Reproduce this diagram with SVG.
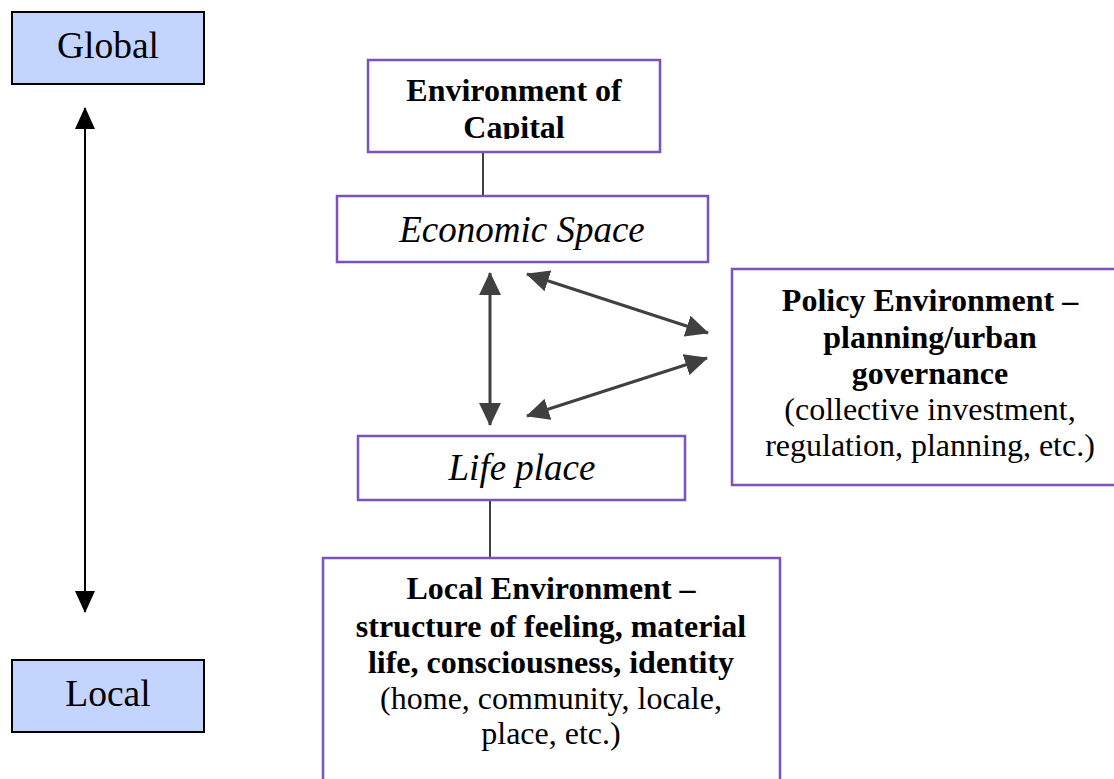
<svg xmlns="http://www.w3.org/2000/svg" width="1114" height="779" viewBox="0 0 1114 779">
  <defs>
    <style>
      .scale { fill: #c3d5fe; stroke: #000; stroke-width: 2; }
      .box { fill: #fff; stroke: #7b52bf; stroke-width: 2.5; }
      .t { font-family: "Liberation Serif", "Times New Roman", serif; fill: #000; text-anchor: middle; }
      .b { font-weight: bold; font-size: 32px; }
      .r { font-size: 32px; }
      .i { font-style: italic; font-size: 37px; }
      .big { font-size: 37.5px; }
      .link { stroke: #404040; stroke-width: 2; fill: none; }
      .dbl { stroke: #404040; stroke-width: 3; fill: none; marker-start: url(#headGray); marker-end: url(#headGray); }
    </style>
    <marker id="headGray" viewBox="0 0 23 22" refX="22" refY="11" markerWidth="23" markerHeight="22" markerUnits="userSpaceOnUse" orient="auto-start-reverse">
      <path d="M0,0 L23,11 L0,22 Z" fill="#404040"/>
    </marker>
    <marker id="headBlack" viewBox="0 0 22 20" refX="21" refY="10" markerWidth="22" markerHeight="20" markerUnits="userSpaceOnUse" orient="auto-start-reverse">
      <path d="M0,0 L22,10 L0,20 Z" fill="#000"/>
    </marker>
    <clipPath id="capClip">
      <rect x="368" y="60" width="292" height="79"/>
    </clipPath>
  </defs>

  <rect width="1114" height="779" fill="#fff"/>

  <!-- scale: global to local -->
  <g id="global">
    <rect class="scale" x="12" y="12" width="192" height="72"/>
    <text class="t big" x="108" y="58">Global</text>
  </g>
  <g id="local">
    <rect class="scale" x="12" y="660" width="192" height="72"/>
    <text class="t big" x="108" y="706">Local</text>
  </g>

  <g id="connectors">
    <line x1="85" y1="108" x2="85" y2="612" stroke="#000" stroke-width="2" marker-start="url(#headBlack)" marker-end="url(#headBlack)"/>
    <line class="link" x1="483" y1="152" x2="483" y2="196"/>
    <line class="link" x1="490" y1="500" x2="490" y2="558"/>
    <line class="dbl" x1="490" y1="273" x2="490" y2="425"/>
    <line class="dbl" x1="527" y1="274" x2="708" y2="333"/>
    <line class="dbl" x1="527" y1="416" x2="707" y2="358"/>
  </g>

  <g id="capital">
    <rect class="box" x="368" y="60" width="292" height="92"/>
    <g clip-path="url(#capClip)">
      <text class="t b" x="514" y="101">Environment of</text>
      <text class="t b" x="514" y="138">Capital</text>
    </g>
  </g>

  <g id="economic">
    <rect class="box" x="337" y="196" width="371" height="66"/>
    <text class="t i" x="522" y="242">Economic Space</text>
  </g>

  <g id="lifeplace">
    <rect class="box" x="358" y="436" width="327" height="64"/>
    <text class="t i" x="522" y="480">Life place</text>
  </g>

  <g id="policy">
    <rect class="box" x="732" y="269" width="390" height="216"/>
    <text class="t b" x="930" y="311">Policy Environment –</text>
    <text class="t b" x="930" y="348">planning/urban</text>
    <text class="t b" x="930" y="384">governance</text>
    <text class="t r" x="930" y="420">(collective investment,</text>
    <text class="t r" x="930" y="456">regulation, planning, etc.)</text>
  </g>

  <g id="localenv">
    <rect class="box" x="323" y="558" width="457" height="240"/>
    <text class="t b" x="551" y="599">Local Environment –</text>
    <text class="t b" x="551" y="637">structure of feeling, material</text>
    <text class="t b" x="551" y="673">life, consciousness, identity</text>
    <text class="t r" x="551" y="709">(home, community, locale,</text>
    <text class="t r" x="551" y="744">place, etc.)</text>
  </g>
</svg>
